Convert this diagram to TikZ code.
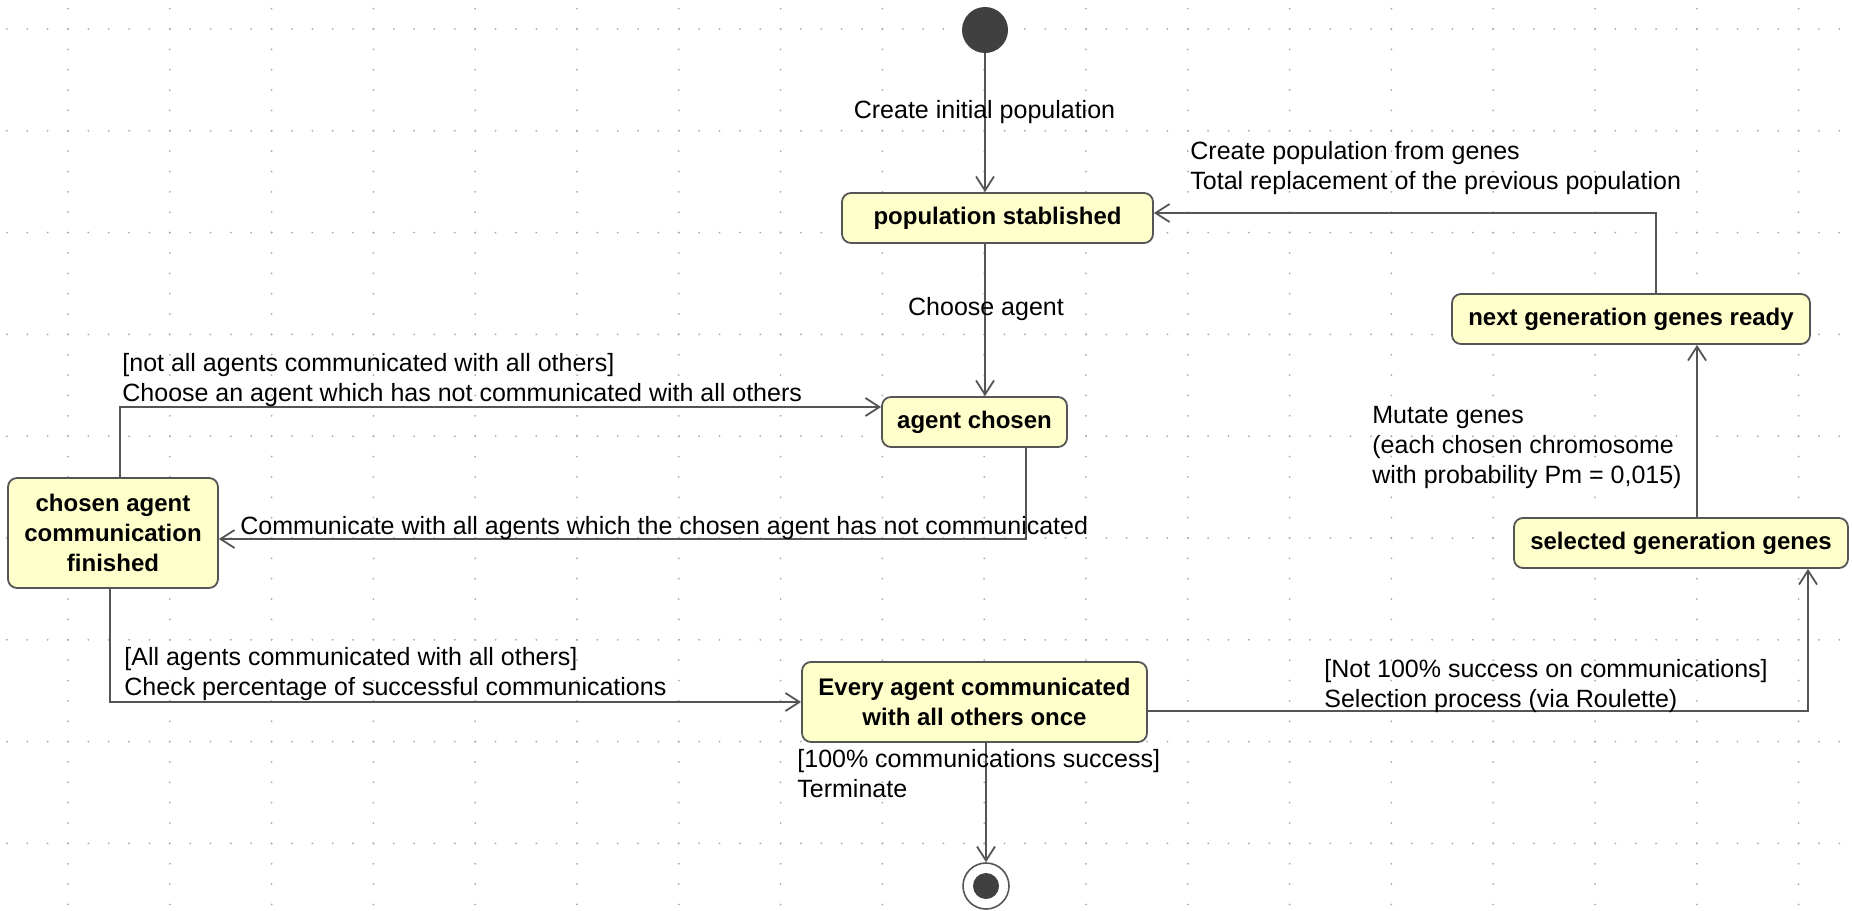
\documentclass[tikz,border=0pt]{standalone}
\usepackage{fontspec}
\setmainfont{Liberation Sans}
\usetikzlibrary{arrows.meta,calc}
\definecolor{statefill}{RGB}{255,255,204}
\definecolor{lineclr}{RGB}{85,85,85}
\definecolor{dotclr}{RGB}{170,170,170}
\definecolor{darkdot}{RGB}{64,64,64}
\begin{document}
\begin{tikzpicture}[x=0.5pt,y=-0.5pt,
  statebox/.style={draw=lineclr, fill=statefill, line width=0.9pt, rounded corners=4.5pt,
    font=\fontsize{12}{15}\selectfont\bfseries, align=center, inner sep=0pt},
  lbl/.style={font=\fontsize{12.5}{15}\selectfont, align=left, inner sep=0pt, anchor=north west},
  arr/.style={draw=lineclr, line width=0.9pt, -{Straight Barb[length=7pt,width=9pt]}},
  griddot/.style={fill=dotclr}]
\useasboundingbox (0,0) rectangle (1852,910);
\fill[white] (0,0) rectangle (1852,910);
% background grid
\foreach \j in {0,...,8}
  \foreach \k in {-3,...,87}
    \fill[griddot] ({68+20.36*\k},{29+101.8*\j}) circle[radius=0.5pt];
\foreach \i in {0,...,17}
  \foreach \k in {-1,...,43}
    \fill[griddot] ({68+101.8*\i},{29+20.36*\k}) circle[radius=0.5pt];
% nodes
\node[circle, fill=darkdot, minimum size=23pt, inner sep=0pt] (init) at (985,30) {};
\node[statebox, minimum width=155.5pt, minimum height=25pt] (pop) at (997.5,218) {population stablished};
\node[statebox, minimum width=92.5pt, minimum height=25pt] (chosen) at (974.5,422) {agent chosen};
\node[statebox, minimum width=105pt, minimum height=55pt] (fin) at (113,533) {chosen agent\\communication\\finished};
\node[statebox, minimum width=172.5pt, minimum height=40pt] (every) at (974.5,702) {Every agent communicated\\with all others once};
\node[statebox, minimum width=179pt, minimum height=25pt] (next) at (1631,319) {next generation genes ready};
\node[statebox, minimum width=167pt, minimum height=25pt] (sel) at (1681,543) {selected generation genes};
\node[circle, draw=lineclr, fill=white, line width=0.8pt, minimum size=23pt, inner sep=0pt] (final) at (986,886) {};
\node[circle, fill=darkdot, minimum size=13pt, inner sep=0pt] (finaldot) at (final.center) {};
% connectors
\draw[arr] (init) -- (init |- pop.north);
\draw[arr] (init |- pop.south) -- (init |- chosen.north);
\draw[arr] ([xshift=25.75pt]chosen.south) |- ([yshift=-3pt]fin.east);
\draw[arr] ([xshift=3.5pt]fin.north) |- ([yshift=7.5pt]chosen.west);
\draw[arr] ([xshift=-1.5pt]fin.south) |- (every.west);
\draw[arr] (final |- every.south) -- (final);
\draw[arr] ([yshift=-4.5pt]every.east) -| ([xshift=63.5pt]sel.south);
\coordinate (sn) at ([xshift=8pt]sel.north);
\draw[arr] (sn) -- (sn |- next.south);
\draw[arr] ([xshift=12.5pt]next.north) |- ([yshift=2.5pt]pop.east);
% labels
\node[lbl, anchor=north] (l1) at (984.5,100) {Create initial population};
\node[lbl, anchor=north] (l2) at (986,297) {Choose agent};
\node[lbl] (l3) at (1190,141) {Create population from genes\\Total replacement of the previous population};
\node[lbl] (l4) at (122,353) {[not all agents communicated with all others]\\Choose an agent which has not communicated with all others};
\node[lbl] (l5) at (240,516) {Communicate with all agents which the chosen agent has not communicated};
\node[lbl] (l6) at (124,647) {[All agents communicated with all others]\\Check percentage of successful communications};
\node[lbl] (l7) at (797,749) {[100\% communications success]\\Terminate};
\node[lbl] (l8) at (1324,659) {[Not 100\% success on communications]\\Selection process (via Roulette)};
\node[lbl] (l9) at (1372,406) {Mutate genes\\(each chosen chromosome\\with probability Pm = 0,015)};
\end{tikzpicture}
\end{document}
